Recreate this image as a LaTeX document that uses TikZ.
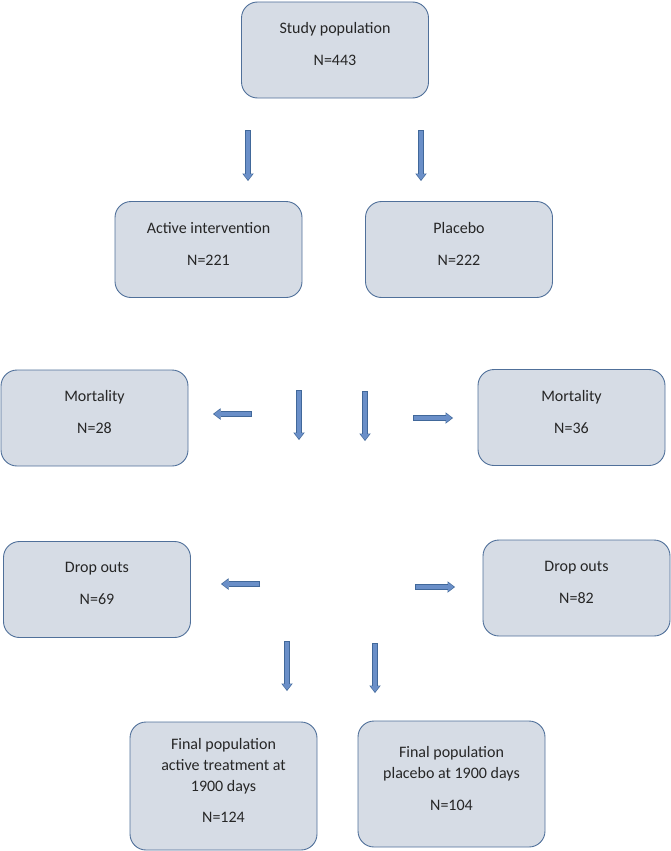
\documentclass[tikz,border=0pt]{standalone}
\usepackage{fontspec}
\setmainfont{Carlito}
\usepackage{tikz}
\usetikzlibrary{arrows.meta,calc}
\definecolor{cbox}{HTML}{D6DCE5}
\definecolor{cedge}{HTML}{50709A}
\definecolor{carrow}{HTML}{6A8FC8}
\definecolor{carredge}{HTML}{41689A}

\begin{document}
\begin{tikzpicture}[x=1pt, y=-1pt,
      box/.style={draw=cedge, fill=cbox, line width=0.9pt, rounded corners=16pt, minimum width=187pt, minimum height=96pt, inner sep=0pt, align=center, text=black!85, font=\fontsize{16}{21}\selectfont, text depth=12pt},
      arr/.style={draw=carredge, line width=5.6pt, -{Triangle[length=7.5pt,width=11.5pt,line width=0pt]},
        postaction={draw=carrow, line width=3.8pt, shorten <=0.9pt, shorten >=1.2pt, -{Triangle[length=5.8pt,width=9pt,line width=0pt]}}}
    ]
    \useasboundingbox (0,0) rectangle (671,851);
    % boxes
    \node[box] (study) at (335,50) {Study population\\[11pt]N=443};
    \node[box] (active) at (208.5,249.5) {Active intervention\\[11pt]N=221};
    \node[box] (placebo) at (459,249.5) {Placebo\\[11pt]N=222};
    \node[box] (mortA) at (94.5,418) {Mortality\\[11pt]N=28};
    \node[box] (mortP) at (571.5,417.5) {Mortality\\[11pt]N=36};
    \node[box] (dropA) at (97,589.5) {Drop outs\\[11pt]N=69};
    \node[box] (dropP) at (576.5,588) {Drop outs\\[11pt]N=82};
    \node[box, minimum height=128pt] (finalA) at (223.5,786) {Final population\\active treatment at\\1900 days\\[10pt]N=124};
    \node[box, minimum height=126pt] (finalP) at (451.5,784) {Final population\\placebo at 1900 days\\[11pt]N=104};
    % arrow ends
    \coordinate (sa0) at (248,130); \coordinate (sa1) at (248,181);
    \coordinate (sp0) at (421,130); \coordinate (sp1) at (421,181);
    \coordinate (ma0) at (252,414); \coordinate (ma1) at (213,414);
    \coordinate (md0) at (299,390); \coordinate (md1) at (299,440);
    \coordinate (me0) at (365,391); \coordinate (me1) at (365,441);
    \coordinate (mp0) at (413,418); \coordinate (mp1) at (453,418);
    \coordinate (da0) at (260,584); \coordinate (da1) at (221,584);
    \coordinate (dp0) at (415,587); \coordinate (dp1) at (455,587);
    \coordinate (fa0) at (287,641); \coordinate (fa1) at (287,691);
    \coordinate (fp0) at (375,643); \coordinate (fp1) at (375,693);
    % arrows
    \draw[arr] (sa0) -- (sa1); \draw[arr] (sp0) -- (sp1);
    \draw[arr] (ma0) -- (ma1); \draw[arr] (mp0) -- (mp1);
    \draw[arr] (md0) -- (md1); \draw[arr] (me0) -- (me1);
    \draw[arr] (da0) -- (da1); \draw[arr] (dp0) -- (dp1);
    \draw[arr] (fa0) -- (fa1); \draw[arr] (fp0) -- (fp1);
  \end{tikzpicture}
\end{document}
